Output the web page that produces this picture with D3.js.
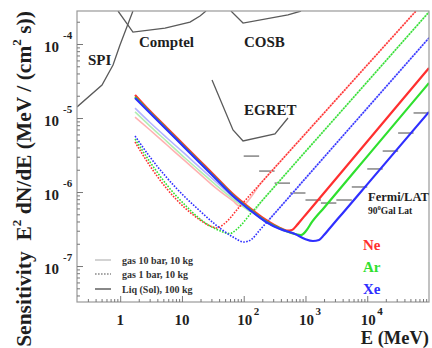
<!DOCTYPE html>
<html><head><meta charset="utf-8">
<script src="https://cdn.jsdelivr.net/npm/d3@7"></script>
<style>
body{margin:0;background:#fff;}
svg{display:block;}
text{font-family:"Liberation Serif","Times New Roman",serif;font-weight:bold;}
</style></head><body>
<svg id="chart" width="432" height="348"></svg>
<script>
// Energy E in MeV, sensitivity E^2 dN/dE in MeV / (cm^2 s)

// Liquid (solid) detectors, 100 kg
const liqNe = [[1.74,2.05e-5],[3.04,1.24e-5],[5.73,7.33e-6],[11.2,4.19e-6],[19.6,2.63e-6],[35.6,1.60e-6],[67.1,9.40e-7],[126,6.08e-7],[230,4.19e-7],[387,3.27e-7],[502,3.02e-7],[605,3.07e-7],[729,3.58e-7],[815,4.00e-7],[1000,4.90e-7],[1e4,4.82e-6],[1e5,4.74e-5]];
const liqAr = [[1.74,1.92e-5],[3.04,1.19e-5],[5.73,7.00e-6],[11.2,4.00e-6],[19.6,2.51e-6],[35.6,1.52e-6],[67.1,8.98e-7],[126,5.81e-7],[230,4.00e-7],[387,3.21e-7],[676,2.71e-7],[846,2.62e-7],[1019,2.97e-7],[1276,3.94e-7],[2000,6.14e-7],[1e4,3.03e-6],[1e5,2.97e-5]];
const liqXe = [[1.74,1.86e-5],[3.04,1.17e-5],[5.73,6.89e-6],[11.2,3.94e-6],[19.6,2.47e-6],[35.6,1.50e-6],[67.1,8.83e-7],[126,5.71e-7],[230,3.94e-7],[387,3.16e-7],[676,2.71e-7],[982,2.32e-7],[1324,2.18e-7],[1656,2.25e-7],[1995,2.62e-7],[2495,3.27e-7],[4000,5.18e-7],[1e4,1.27e-6],[1e5,1.21e-5]];

// Gas 10 bar, 10 kg
const gas10Ne = [[1.74,1.03e-5],[3.04,6.89e-6],[5.73,4.32e-6],[11.2,2.63e-6],[19.6,1.75e-6],[35.6,1.13e-6],[67.1,7.57e-7],[87.1,6.43e-7],[200,1.39e-6],[1000,6.15e-6],[1e4,5.19e-5],[61500,2.79e-4]];
const gas10Ar = [[1.74,1.21e-5],[3.04,7.79e-6],[5.73,4.81e-6],[11.2,2.88e-6],[19.6,1.92e-6],[35.6,1.24e-6],[67.1,8.05e-7],[105,6.08e-7],[136,5.36e-7],[200,7.70e-7],[1000,3.52e-6],[1e4,3.08e-5],[1e5,2.71e-4]];
const gas10Xe = [[1.74,1.36e-5],[3.04,8.69e-6],[5.73,5.37e-6],[11.2,3.27e-6],[19.6,2.14e-6],[35.6,1.37e-6],[67.1,8.57e-7],[126,5.81e-7],[184,4.67e-7],[235,3.89e-7],[267,4.38e-7],[1000,1.53e-6],[1e4,1.36e-5],[1e5,1.21e-4]];

// Gas 1 bar, 10 kg
const gas1Ne = [[1.74,4.74e-6],[3.04,2.25e-6],[5.73,1.10e-6],[11.2,6.08e-7],[19.6,4.19e-7],[28.5,3.48e-7],[36.9,3.27e-7],[48.0,3.70e-7],[87.1,6.43e-7],[200,1.39e-6],[1000,6.15e-6],[1e4,5.19e-5],[61500,2.79e-4]];
const gas1Ar = [[1.74,5.20e-6],[3.04,2.55e-6],[5.73,1.24e-6],[11.2,6.68e-7],[19.6,4.32e-7],[35.6,3.16e-7],[60.0,2.75e-7],[77.8,3.16e-7],[136,5.36e-7],[200,7.70e-7],[1000,3.52e-6],[1e4,3.08e-5],[1e5,2.71e-4]];
const gas1Xe = [[1.74,5.71e-6],[3.04,2.97e-6],[5.73,1.55e-6],[11.2,8.57e-7],[19.6,5.54e-7],[35.6,3.58e-7],[67.1,2.47e-7],[101,2.11e-7],[136,2.32e-7],[177,2.97e-7],[235,3.89e-7],[267,4.38e-7],[1000,1.53e-6],[1e4,1.36e-5],[1e5,1.21e-4]];

// Other instruments
const spi = [[0.2,1.41e-5],[0.508,2.79e-5],[0.766,5.2e-5],[0.993,9.7e-5],[1.61,2.79e-4]];
const comptel = [[0.923,2.79e-4],[1.61,1.45e-4],[5.32,1.64e-4],[13.5,1.98e-4],[19.6,2.39e-4],[24.5,2.79e-4]];
const cosb = [[62.2,2.79e-4],[97.5,1.92e-4],[521,2.47e-4],[847,2.79e-4]];
const egret = [[30.7,3.27e-5],[67.1,6.89e-6],[97.5,4.89e-6],[321,6.08e-6],[521,1.0e-5]];

// Fermi/LAT, 90 deg galactic latitude: quarter-decade bins from 100 MeV
const fermiLowEdges = [1e2,1.778e2,3.162e2,5.623e2,1e3,1.778e3,3.162e3,5.623e3,1e4,1.778e4,3.162e4,5.623e4];
const fermiHighEdges = [1.778e2,3.162e2,5.623e2,1e3,1.778e3,3.162e3,5.623e3,1e4,1.778e4,3.162e4,5.623e4,1e5];
const fermiValues = [3.06e-6,1.92e-6,1.32e-6,9.7e-7,7.8e-7,7.1e-7,7.8e-7,1.17e-6,2.05e-6,3.58e-6,6.27e-6,1.17e-5];

const xMajorTicks = [1,10,1e2,1e3,1e4];
const xTickExponents = [null,null,"2","3","4"];
const yMajorTicks = [1e-7,1e-6,1e-5,1e-4];
const yTickExponents = ["-7","-6","-5","-4"];

const plot = {l:77, r:429, t:11, b:302};

const x = d3.scaleLog().domain([0.2, 1e5]).range([plot.l, plot.r]);
const y = d3.scaleLog().domain([Math.pow(10,-7.486), Math.pow(10,-3.554)]).range([plot.b, plot.t]);

const svg = d3.select("#chart");

svg.append("defs").append("clipPath").attr("id","clip")
  .append("rect").attr("x",plot.l).attr("y",plot.t)
  .attr("width",plot.r-plot.l).attr("height",plot.b-plot.t);

const line = d3.line().x(d=>x(d[0])).y(d=>y(d[1])).curve(d3.curveMonotoneX);
const lineStraight = d3.line().x(d=>x(d[0])).y(d=>y(d[1]));

const g = svg.append("g").attr("clip-path","url(#clip)");

// other instruments
[spi, comptel, cosb, egret].forEach(d=>{
  g.append("path").attr("d",lineStraight(d)).attr("fill","none")
   .attr("stroke","#5a5a5a").attr("stroke-width",1.3);
});

// Fermi/LAT steps
g.selectAll("line.fermi").data(fermiValues).enter().append("line")
  .attr("class","fermi")
  .attr("x1",(d,i)=>x(fermiLowEdges[i])).attr("x2",(d,i)=>x(fermiHighEdges[i]))
  .attr("y1",d=>y(d)).attr("y2",d=>y(d))
  .attr("stroke","#666").attr("stroke-width",1.2);

const red = "#ff2f2f", green = "#2fe02f", blue = "#2f2fff";
const pale = {ne:"#ffb2b2", ar:"#b2efb2", xe:"#b4b4ff"};

// gas 10 bar: pale solid
[[gas10Ne,pale.ne],[gas10Ar,pale.ar],[gas10Xe,pale.xe]].forEach(([d,c])=>{
  g.append("path").attr("d",line(d)).attr("fill","none")
   .attr("stroke",c).attr("stroke-width",1.6);
});
// gas 1 bar: dotted
[[gas1Ne,red],[gas1Ar,green],[gas1Xe,blue]].forEach(([d,c])=>{
  g.append("path").attr("d",line(d)).attr("fill","none")
   .attr("stroke",c).attr("stroke-width",1.6).attr("stroke-dasharray","1.6,1.4");
});
// liquid: thick solid
[[liqNe,red],[liqAr,green],[liqXe,blue]].forEach(([d,c])=>{
  g.append("path").attr("d",line(d)).attr("fill","none")
   .attr("stroke",c).attr("stroke-width",2.2);
});

// frame
svg.append("rect").attr("x",plot.l).attr("y",plot.t)
  .attr("width",plot.r-plot.l).attr("height",plot.b-plot.t)
  .attr("fill","none").attr("stroke","#999").attr("stroke-width",1.2);

// minor tick values
function minorTicks(lo, hi){
  const out=[];
  for(let e=Math.floor(Math.log10(lo)); e<=Math.ceil(Math.log10(hi)); e++){
    for(let k=2;k<=9;k++){ const v=k*Math.pow(10,e); if(v>lo && v<hi) out.push(v); }
  }
  return out;
}

// axes with ticks pointing inward
function styleAxis(sel){
  sel.select(".domain").remove();
  sel.selectAll(".tick line").attr("stroke","#777").attr("stroke-width",1);
  sel.selectAll(".tick text").remove();
}
svg.append("g").attr("transform",`translate(0,${plot.b})`)
  .call(d3.axisBottom(x).tickValues(xMajorTicks).tickSize(-6).tickFormat(""))
  .call(styleAxis);
svg.append("g").attr("transform",`translate(0,${plot.b})`)
  .call(d3.axisBottom(x).tickValues(minorTicks(0.2,1e5)).tickSize(-3).tickFormat(""))
  .call(styleAxis);
svg.append("g").attr("transform",`translate(${plot.l},0)`)
  .call(d3.axisLeft(y).tickValues(yMajorTicks).tickSize(-6).tickFormat(""))
  .call(styleAxis);
svg.append("g").attr("transform",`translate(${plot.l},0)`)
  .call(d3.axisLeft(y).tickValues(minorTicks(y.domain()[0],y.domain()[1])).tickSize(-3).tickFormat(""))
  .call(styleAxis);

const ink = "#1e1e1e";
// x tick labels
xMajorTicks.forEach((v,i)=>{
  const e = xTickExponents[i];
  const label = e ? "10" : String(v);
  svg.append("text").attr("x",x(v)+(e?1:0)).attr("y",324.5).attr("text-anchor","middle")
    .attr("font-size",15).attr("fill",ink).text(label);
  if(e) svg.append("text").attr("x",x(v)+10).attr("y",314.5)
    .attr("font-size",11).attr("fill",ink).text(e);
});
// y tick labels
yMajorTicks.forEach((v,i)=>{
  svg.append("text").attr("x",59).attr("y",y(v)+8).attr("text-anchor","end")
    .attr("font-size",15).attr("fill",ink).text("10");
  svg.append("text").attr("x",63).attr("y",y(v)-5)
    .attr("font-size",11).attr("fill",ink).text(yTickExponents[i]);
});

// axis titles
svg.append("text").attr("x",429).attr("y",343.8).attr("text-anchor","end")
  .attr("font-size",18.5).attr("fill",ink).text("E (MeV)");
const yt = svg.append("text").attr("transform","translate(31,179) rotate(-90)")
  .attr("text-anchor","middle").attr("font-size",21.5).attr("fill",ink);
yt.append("tspan").text("Sensitivity\u00a0\u00a0E");
yt.append("tspan").attr("font-size",13).attr("dy",-10).text("2");
yt.append("tspan").attr("dy",10).text(" dN/dE (MeV / (cm");
yt.append("tspan").attr("font-size",13).attr("dy",-10).text("2");
yt.append("tspan").attr("dy",10).text(" s))");

// instrument labels
[["SPI",88,65],["Comptel",139,47],["COSB",244,47],["EGRET",244,115]].forEach(([t,px,py])=>{
  svg.append("text").attr("x",px).attr("y",py).attr("font-size",15).attr("fill",ink).text(t);
});
svg.append("text").attr("x",368).attr("y",201).attr("font-size",12.5).attr("fill",ink).text("Fermi/LAT");
const gl = svg.append("text").attr("x",368).attr("y",214).attr("font-size",9.5).attr("fill",ink);
gl.append("tspan").text("90");
gl.append("tspan").attr("font-size",6.5).attr("dy",-4).text("0");
gl.append("tspan").attr("dy",4).text("Gal Lat");

// gas labels
[["Ne",red,250],["Ar",green,272],["Xe",blue,294]].forEach(([t,c,py])=>{
  svg.append("text").attr("x",363).attr("y",py).attr("font-size",15).attr("fill",c).text(t);
});

// legend
const legend = [
  {label:"gas 10 bar, 10 kg", stroke:"#c4c4c4", dash:null, w:1.5, y:260},
  {label:"gas 1 bar, 10 kg", stroke:"#8a8a8a", dash:"1.6,1.4", w:1.4, y:274},
  {label:"Liq (Sol), 100 kg", stroke:"#555", dash:null, w:1.4, y:289}
];
legend.forEach(d=>{
  svg.append("line").attr("x1",95).attr("x2",111).attr("y1",d.y).attr("y2",d.y)
    .attr("stroke",d.stroke).attr("stroke-width",d.w).attr("stroke-dasharray",d.dash);
  svg.append("text").attr("x",122).attr("y",d.y+4).attr("font-size",10).attr("fill","#333").text(d.label);
});
</script>
</body></html>
